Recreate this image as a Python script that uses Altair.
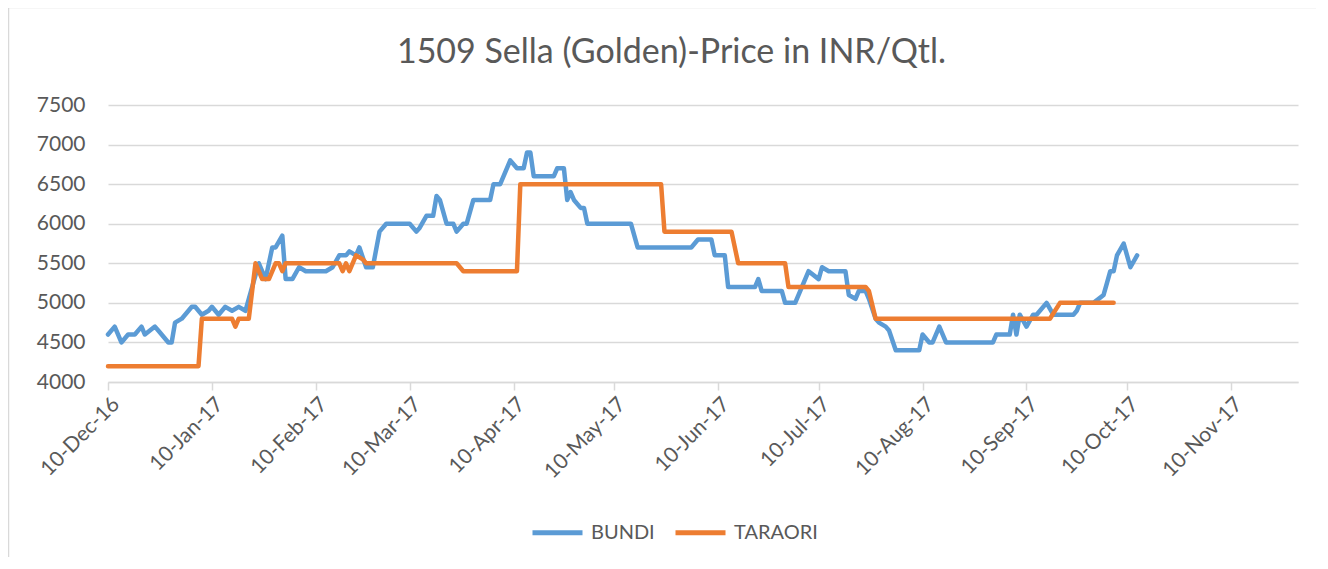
import altair as alt
import pandas as pd

TITLE = "1509 Sella (Golden)-Price in INR/Qtl."
SERIES = ["BUNDI", "TARAORI"]
COLORS = ["#5B9BD5", "#ED7D31"]

BUNDI_DATES = [
    "2016-12-10", "2016-12-12", "2016-12-14", "2016-12-16", "2016-12-18", "2016-12-20",
    "2016-12-21", "2016-12-24", "2016-12-25", "2016-12-28", "2016-12-29", "2016-12-30",
    "2017-01-01", "2017-01-04", "2017-01-05", "2017-01-07", "2017-01-09", "2017-01-10",
    "2017-01-12", "2017-01-14", "2017-01-16", "2017-01-18", "2017-01-20", "2017-01-24",
    "2017-01-26", "2017-01-28", "2017-01-29", "2017-01-31", "2017-02-01", "2017-02-03",
    "2017-02-05", "2017-02-07", "2017-02-13", "2017-02-15", "2017-02-17", "2017-02-19",
    "2017-02-20", "2017-02-22", "2017-02-23", "2017-02-25", "2017-02-27", "2017-03-01",
    "2017-03-03", "2017-03-10", "2017-03-12", "2017-03-13", "2017-03-15", "2017-03-17",
    "2017-03-18", "2017-03-19", "2017-03-21", "2017-03-23", "2017-03-24", "2017-03-26",
    "2017-03-27", "2017-03-29", "2017-04-03", "2017-04-04", "2017-04-06", "2017-04-09",
    "2017-04-11", "2017-04-13", "2017-04-14", "2017-04-15", "2017-04-16", "2017-04-22",
    "2017-04-23", "2017-04-25", "2017-04-26", "2017-04-27", "2017-04-28", "2017-04-30",
    "2017-05-01", "2017-05-02", "2017-05-15", "2017-05-17", "2017-06-02", "2017-06-04",
    "2017-06-08", "2017-06-09", "2017-06-12", "2017-06-13", "2017-06-21", "2017-06-22",
    "2017-06-23", "2017-06-29", "2017-06-30", "2017-07-03", "2017-07-07", "2017-07-10",
    "2017-07-11", "2017-07-13", "2017-07-18", "2017-07-19", "2017-07-21", "2017-07-22",
    "2017-07-24", "2017-07-25", "2017-07-27", "2017-07-28", "2017-07-30", "2017-07-31",
    "2017-08-02", "2017-08-09", "2017-08-10", "2017-08-12", "2017-08-13", "2017-08-15",
    "2017-08-17", "2017-08-31", "2017-09-01", "2017-09-05", "2017-09-06", "2017-09-07",
    "2017-09-08", "2017-09-10", "2017-09-12", "2017-09-13", "2017-09-16", "2017-09-18",
    "2017-09-24", "2017-09-25", "2017-09-26", "2017-09-30", "2017-10-03", "2017-10-04",
    "2017-10-05", "2017-10-06", "2017-10-07", "2017-10-09", "2017-10-11", "2017-10-13",
]
BUNDI_PRICES = [
    4600, 4700, 4500, 4600, 4600, 4700,
    4600, 4700, 4650, 4500, 4500, 4750,
    4800, 4950, 4950, 4850, 4900, 4950,
    4850, 4950, 4900, 4950, 4900, 5500,
    5300, 5700, 5700, 5850, 5300, 5300,
    5450, 5400, 5400, 5450, 5600, 5600,
    5650, 5600, 5700, 5450, 5450, 5900,
    6000, 6000, 5900, 5950, 6100, 6100,
    6350, 6300, 6000, 6000, 5900, 6000,
    6000, 6300, 6300, 6500, 6500, 6800,
    6700, 6700, 6900, 6900, 6600, 6600,
    6700, 6700, 6300, 6400, 6300, 6200,
    6200, 6000, 6000, 5700, 5700, 5800,
    5800, 5600, 5600, 5200, 5200, 5300,
    5150, 5150, 5000, 5000, 5400, 5300,
    5450, 5400, 5400, 5100, 5050, 5150,
    5150, 5050, 4800, 4750, 4700, 4650,
    4400, 4400, 4600, 4500, 4500, 4700,
    4500, 4500, 4600, 4600, 4850, 4600,
    4850, 4700, 4850, 4850, 5000, 4850,
    4850, 4900, 5000, 5000, 5100, 5250,
    5400, 5400, 5600, 5750, 5450, 5600,
]

TARAORI_DATES = [
    "2016-12-10", "2017-01-06", "2017-01-07", "2017-01-16", "2017-01-17", "2017-01-18",
    "2017-01-21", "2017-01-23", "2017-01-25", "2017-01-27", "2017-01-29", "2017-01-30",
    "2017-01-31", "2017-02-01", "2017-02-17", "2017-02-18", "2017-02-19", "2017-02-20",
    "2017-02-22", "2017-02-24", "2017-02-25", "2017-03-24", "2017-03-26", "2017-04-11",
    "2017-04-12", "2017-05-24", "2017-05-25", "2017-06-14", "2017-06-16", "2017-06-30",
    "2017-07-01", "2017-07-24", "2017-07-25", "2017-07-27", "2017-09-17", "2017-09-20",
    "2017-10-06",
]
TARAORI_PRICES = [
    4200, 4200, 4800, 4800, 4700, 4800,
    4800, 5500, 5300, 5300, 5500, 5500,
    5400, 5500, 5500, 5400, 5500, 5400,
    5600, 5550, 5500, 5500, 5400, 5400,
    6500, 6500, 5900, 5900, 5500, 5500,
    5200, 5200, 5150, 4800, 4800, 5000,
    5000,
]

Y_TICKS = [4000, 4500, 5000, 5500, 6000, 6500, 7000, 7500]
X_TICKS = [
    "2016-12-10", "2017-01-10", "2017-02-10", "2017-03-10", "2017-04-10", "2017-05-10",
    "2017-06-10", "2017-07-10", "2017-08-10", "2017-09-10", "2017-10-10", "2017-11-10",
]
X_DOMAIN = ["2016-12-10", "2017-11-30"]

TEXT_COLOR = "#595959"
GRID_COLOR = "#d9d9d9"
FONT = "Lato"


def to_dt(s):
    t = pd.Timestamp(s)
    return alt.DateTime(year=t.year, month=t.month, date=t.day, utc=True)


df = pd.concat([
    pd.DataFrame({"date": BUNDI_DATES, "price": BUNDI_PRICES, "series": SERIES[0]}),
    pd.DataFrame({"date": TARAORI_DATES, "price": TARAORI_PRICES, "series": SERIES[1]}),
], ignore_index=True)

lines = alt.Chart(df).mark_line(
    strokeWidth=4.5, strokeJoin="round", strokeCap="round"
).encode(
    x=alt.X(
        "date:T",
        scale=alt.Scale(type="utc", domain=[to_dt(d) for d in X_DOMAIN], nice=False),
        axis=alt.Axis(
            title=None, values=[to_dt(d) for d in X_TICKS], format="%d-%b-%y",
            grid=False, domainColor=GRID_COLOR, domainWidth=1.5,
            tickColor=GRID_COLOR, tickSize=8, tickWidth=1.5,
            labelAngle=-45, labelAlign="right", labelBaseline="top",
            labelPadding=3, labelFlush=False, labelOverlap=False, labelBound=False,
            labelFont=FONT, labelFontSize=21, labelColor=TEXT_COLOR,
        ),
    ),
    y=alt.Y(
        "price:Q",
        scale=alt.Scale(domain=[Y_TICKS[0], Y_TICKS[-1]], nice=False, zero=False),
        axis=alt.Axis(
            title=None, values=Y_TICKS, format="d", grid=True, gridColor=GRID_COLOR,
            gridWidth=1.3, domain=False, ticks=False, labelPadding=23,
            labelFont=FONT, labelFontSize=21, labelColor=TEXT_COLOR,
        ),
    ),
    color=alt.Color(
        "series:N",
        scale=alt.Scale(domain=SERIES, range=COLORS),
        legend=alt.Legend(
            title=None, orient="none", legendX=422, legendY=400, direction="horizontal",
            symbolType="stroke", symbolSize=2500, symbolStrokeWidth=5,
            labelFont=FONT, labelFontSize=20, labelColor=TEXT_COLOR,
            labelOffset=6, columnPadding=10,
        ),
    ),
)

one = pd.DataFrame({"k": [0]})
frame_left = alt.Chart(one).mark_rule(color=GRID_COLOR, strokeWidth=1.5).encode(
    x=alt.value(-99.5), y=alt.value(-97.5), y2=alt.value(700)
)
frame_top = alt.Chart(one).mark_rule(color=GRID_COLOR, strokeWidth=1.5).encode(
    y=alt.value(-97.5), x=alt.value(-99.5), x2=alt.value(1400)
)

title = alt.Chart(one).mark_text(
    font=FONT, fontSize=34, color=TEXT_COLOR, align="center", baseline="alphabetic"
).encode(
    text=alt.value(TITLE), x=alt.value(563.5), y=alt.value(-42)
)

chart = alt.layer(frame_left, frame_top, lines, title).properties(
    width=1190, height=277,
    padding={"left": 100, "top": 97, "right": 18, "bottom": 175},
    autosize=alt.AutoSizeParams(type="none"),
).configure_view(stroke=None)

chart.save("out.html", embed_options={"renderer": "svg", "actions": False})
